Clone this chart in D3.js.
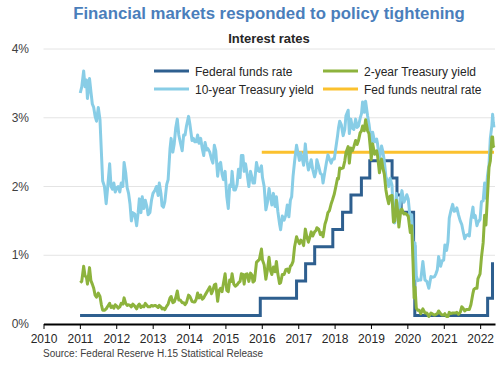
<!DOCTYPE html>
<html>
<head>
<meta charset="utf-8">
<script src="https://cdnjs.cloudflare.com/ajax/libs/d3/7.8.5/d3.min.js"></script>
<style>
  html, body { margin: 0; padding: 0; background: #fff; }
  svg { display: block; font-family: "Liberation Sans", Arial, sans-serif; }
</style>
</head>
<body>
<svg id="chart" width="500" height="365"></svg>
<script>
const seriesNames = ["Federal funds rate", "2-year Treasury yield", "10-year Treasury yield", "Fed funds neutral rate"];
const xTickYears = [2010, 2011, 2012, 2013, 2014, 2015, 2016, 2017, 2018, 2019, 2020, 2021, 2022];
const yTicks = [0, 1, 2, 3, 4];

const fedFunds = [
  ["2011-01-03",0.125],["2015-12-17",0.375],["2016-12-15",0.625],["2017-03-16",0.875],
  ["2017-06-15",1.125],["2017-12-14",1.375],["2018-03-22",1.625],["2018-06-14",1.875],
  ["2018-09-27",2.125],["2018-12-20",2.375],["2019-08-01",2.125],["2019-09-19",1.875],
  ["2019-10-31",1.625],["2020-03-04",1.125],["2020-03-16",0.125],["2022-03-17",0.375],
  ["2022-05-05",0.875],["2022-05-20",0.875]
];

const neutralRate = [["2016-01-01",2.5],["2022-05-20",2.5]];

const tenYear = [
  ["2011-01-05",3.36],["2011-01-20",3.45],["2011-02-08",3.68],["2011-02-22",3.45],["2011-03-08",3.55],["2011-03-18",3.28],
  ["2011-04-08",3.57],["2011-04-22",3.38],["2011-05-06",3.20],["2011-05-20",3.15],["2011-06-03",3.02],["2011-06-17",2.95],
  ["2011-07-05",3.15],["2011-07-22",2.97],["2011-08-05",2.50],["2011-08-18",2.08],["2011-09-05",2.00],["2011-09-22",1.75],
  ["2011-10-05",1.95],["2011-10-27",2.33],["2011-11-10",2.00],["2011-11-25",1.96],["2011-12-08",2.05],["2011-12-22",1.92],
  ["2012-01-06",1.98],["2012-01-20",2.00],["2012-02-06",1.92],["2012-02-20",2.05],["2012-03-08",2.00],["2012-03-20",2.35],
  ["2012-04-05",2.20],["2012-04-20",1.98],["2012-05-04",1.90],["2012-05-18",1.75],["2012-06-01",1.50],["2012-06-15",1.62],
  ["2012-07-05",1.60],["2012-07-24",1.43],["2012-08-08",1.62],["2012-08-20",1.82],["2012-09-05",1.62],["2012-09-18",1.85],
  ["2012-10-04",1.68],["2012-10-19",1.80],["2012-11-05",1.70],["2012-11-16",1.59],["2012-12-04",1.62],["2012-12-20",1.80],
  ["2013-01-04",1.90],["2013-01-25",1.95],["2013-02-08",2.00],["2013-02-25",1.87],["2013-03-08",2.05],["2013-03-25",1.90],
  ["2013-04-05",1.72],["2013-04-19",1.70],["2013-05-03",1.78],["2013-05-22",2.03],["2013-06-05",2.10],["2013-06-24",2.55],
  ["2013-07-05",2.70],["2013-07-22",2.50],["2013-08-05",2.62],["2013-08-20",2.85],["2013-09-05",2.98],["2013-09-20",2.75],
  ["2013-10-04",2.65],["2013-10-24",2.52],["2013-11-08",2.75],["2013-11-22",2.75],["2013-12-06",2.88],["2013-12-27",3.02],
  ["2014-01-10",2.90],["2014-01-31",2.67],["2014-02-14",2.70],["2014-02-28",2.65],["2014-03-14",2.65],["2014-03-28",2.75],
  ["2014-04-11",2.63],["2014-04-28",2.70],["2014-05-14",2.55],["2014-05-28",2.45],["2014-06-11",2.64],["2014-06-27",2.53],
  ["2014-07-09",2.55],["2014-07-28",2.50],["2014-08-14",2.40],["2014-08-28",2.34],["2014-09-12",2.60],["2014-09-26",2.52],
  ["2014-10-15",2.15],["2014-10-30",2.32],["2014-11-14",2.35],["2014-11-28",2.18],["2014-12-12",2.10],["2014-12-29",2.22],
  ["2015-01-15",1.85],["2015-01-30",1.68],["2015-02-13",2.02],["2015-02-27",2.00],["2015-03-09",2.22],["2015-03-26",1.95],
  ["2015-04-10",1.95],["2015-04-28",2.03],["2015-05-12",2.25],["2015-05-28",2.13],["2015-06-10",2.45],["2015-06-26",2.45],
  ["2015-07-08",2.22],["2015-07-22",2.33],["2015-08-07",2.18],["2015-08-24",2.00],["2015-09-10",2.22],["2015-09-25",2.13],
  ["2015-10-05",2.05],["2015-10-20",2.05],["2015-11-09",2.35],["2015-11-25",2.23],["2015-12-08",2.22],["2015-12-29",2.30],
  ["2016-01-08",2.13],["2016-01-25",2.00],["2016-02-11",1.66],["2016-02-26",1.76],["2016-03-14",1.97],["2016-03-30",1.83],
  ["2016-04-11",1.73],["2016-04-27",1.90],["2016-05-13",1.71],["2016-05-27",1.85],["2016-06-10",1.64],["2016-06-27",1.46],
  ["2016-07-08",1.37],["2016-07-25",1.57],["2016-08-12",1.51],["2016-08-29",1.58],["2016-09-13",1.73],["2016-09-29",1.56],
  ["2016-10-14",1.80],["2016-10-27",1.85],["2016-11-10",2.15],["2016-11-25",2.36],["2016-12-15",2.60],["2016-12-29",2.49],
  ["2017-01-13",2.38],["2017-01-27",2.49],["2017-02-10",2.41],["2017-02-24",2.31],["2017-03-13",2.62],["2017-03-28",2.38],
  ["2017-04-13",2.24],["2017-04-27",2.30],["2017-05-11",2.39],["2017-05-26",2.25],["2017-06-14",2.14],["2017-06-28",2.22],
  ["2017-07-07",2.39],["2017-07-26",2.29],["2017-08-11",2.19],["2017-08-28",2.17],["2017-09-07",2.05],["2017-09-26",2.22],
  ["2017-10-11",2.35],["2017-10-26",2.46],["2017-11-10",2.40],["2017-11-28",2.34],["2017-12-12",2.40],["2017-12-29",2.40],
  ["2018-01-12",2.55],["2018-01-30",2.73],["2018-02-09",2.85],["2018-02-21",2.95],["2018-03-09",2.90],["2018-03-28",2.74],
  ["2018-04-13",2.83],["2018-04-25",3.03],["2018-05-17",3.11],["2018-05-29",2.77],["2018-06-13",2.98],["2018-06-29",2.85],
  ["2018-07-13",2.83],["2018-07-31",2.98],["2018-08-15",2.86],["2018-08-29",2.88],["2018-09-14",2.99],["2018-09-28",3.06],
  ["2018-10-09",3.23],["2018-10-26",3.08],["2018-11-08",3.24],["2018-11-28",3.03],["2018-12-12",2.91],["2018-12-31",2.69],
  ["2019-01-03",2.56],["2019-01-18",2.79],["2019-02-07",2.65],["2019-02-27",2.69],["2019-03-08",2.62],["2019-03-27",2.39],
  ["2019-04-17",2.59],["2019-04-30",2.51],["2019-05-15",2.37],["2019-05-31",2.14],["2019-06-13",2.09],["2019-06-28",2.00],
  ["2019-07-12",2.12],["2019-07-31",2.02],["2019-08-15",1.53],["2019-08-28",1.47],["2019-09-13",1.90],["2019-09-27",1.69],
  ["2019-10-08",1.54],["2019-10-28",1.85],["2019-11-08",1.94],["2019-11-27",1.77],["2019-12-13",1.82],["2019-12-27",1.88],
  ["2020-01-10",1.82],["2020-01-31",1.51],["2020-02-14",1.59],["2020-02-28",1.13],["2020-03-09",0.54],["2020-03-18",1.18],
  ["2020-03-31",0.70],["2020-04-15",0.63],["2020-04-30",0.64],["2020-05-15",0.64],["2020-06-05",0.91],["2020-06-26",0.64],
  ["2020-07-15",0.62],["2020-08-04",0.52],["2020-08-25",0.69],["2020-09-15",0.68],["2020-09-30",0.69],["2020-10-14",0.73],
  ["2020-10-28",0.79],["2020-11-10",0.98],["2020-11-30",0.84],["2020-12-15",0.92],["2020-12-31",0.93],["2021-01-12",1.15],
  ["2021-01-29",1.07],["2021-02-12",1.20],["2021-02-25",1.54],["2021-03-12",1.64],["2021-03-31",1.74],["2021-04-14",1.64],
  ["2021-04-30",1.65],["2021-05-12",1.69],["2021-05-28",1.59],["2021-06-15",1.50],["2021-06-30",1.45],["2021-07-14",1.35],
  ["2021-07-30",1.24],["2021-08-13",1.29],["2021-08-31",1.30],["2021-09-14",1.28],["2021-09-30",1.52],["2021-10-21",1.70],
  ["2021-10-29",1.55],["2021-11-12",1.58],["2021-11-30",1.43],["2021-12-10",1.48],["2021-12-31",1.52],["2022-01-14",1.78],
  ["2022-01-31",1.79],["2022-02-15",2.05],["2022-02-28",1.83],["2022-03-15",2.15],["2022-03-31",2.32],["2022-04-13",2.70],
  ["2022-04-29",2.89],["2022-05-06",3.05],["2022-05-13",2.93],["2022-05-20",2.86]
];

const twoYear = [
  ["2011-01-05",0.60],["2011-01-20",0.62],["2011-02-08",0.84],["2011-02-22",0.70],["2011-03-08",0.68],["2011-03-18",0.58],
  ["2011-04-08",0.82],["2011-04-22",0.63],["2011-05-06",0.58],["2011-05-20",0.52],["2011-06-03",0.42],["2011-06-17",0.39],
  ["2011-07-05",0.45],["2011-07-22",0.40],["2011-08-05",0.28],["2011-08-18",0.20],["2011-09-05",0.20],["2011-09-22",0.22],
  ["2011-10-05",0.25],["2011-10-27",0.30],["2011-11-10",0.24],["2011-11-25",0.26],["2011-12-08",0.23],["2011-12-22",0.28],
  ["2012-01-06",0.26],["2012-01-20",0.23],["2012-02-06",0.25],["2012-02-20",0.30],["2012-03-08",0.29],["2012-03-20",0.38],
  ["2012-04-05",0.30],["2012-04-20",0.27],["2012-05-04",0.28],["2012-05-18",0.27],["2012-06-01",0.25],["2012-06-15",0.29],
  ["2012-07-05",0.26],["2012-07-24",0.22],["2012-08-08",0.27],["2012-08-20",0.29],["2012-09-05",0.24],["2012-09-18",0.26],
  ["2012-10-04",0.25],["2012-10-19",0.30],["2012-11-05",0.27],["2012-11-16",0.25],["2012-12-04",0.25],["2012-12-20",0.27],
  ["2013-01-04",0.26],["2013-01-25",0.27],["2013-02-08",0.26],["2013-02-25",0.24],["2013-03-08",0.27],["2013-03-25",0.25],
  ["2013-04-05",0.22],["2013-04-19",0.23],["2013-05-03",0.21],["2013-05-22",0.26],["2013-06-05",0.29],["2013-06-24",0.38],
  ["2013-07-05",0.40],["2013-07-22",0.31],["2013-08-05",0.32],["2013-08-20",0.38],["2013-09-05",0.48],["2013-09-20",0.35],
  ["2013-10-04",0.35],["2013-10-24",0.31],["2013-11-08",0.31],["2013-11-22",0.28],["2013-12-06",0.31],["2013-12-27",0.42],
  ["2014-01-10",0.40],["2014-01-31",0.33],["2014-02-14",0.32],["2014-02-28",0.32],["2014-03-14",0.36],["2014-03-28",0.45],
  ["2014-04-11",0.38],["2014-04-28",0.42],["2014-05-14",0.36],["2014-05-28",0.38],["2014-06-11",0.42],["2014-06-27",0.46],
  ["2014-07-09",0.49],["2014-07-28",0.54],["2014-08-14",0.44],["2014-08-28",0.49],["2014-09-12",0.57],["2014-09-26",0.58],
  ["2014-10-15",0.33],["2014-10-30",0.49],["2014-11-14",0.52],["2014-11-28",0.47],["2014-12-12",0.59],["2014-12-29",0.73],
  ["2015-01-15",0.49],["2015-01-30",0.47],["2015-02-13",0.64],["2015-02-27",0.62],["2015-03-09",0.73],["2015-03-26",0.58],
  ["2015-04-10",0.55],["2015-04-28",0.57],["2015-05-12",0.60],["2015-05-28",0.62],["2015-06-10",0.73],["2015-06-26",0.72],
  ["2015-07-08",0.58],["2015-07-22",0.72],["2015-08-07",0.73],["2015-08-24",0.62],["2015-09-10",0.74],["2015-09-25",0.71],
  ["2015-10-05",0.61],["2015-10-20",0.63],["2015-11-09",0.90],["2015-11-25",0.92],["2015-12-08",0.94],["2015-12-29",1.09],
  ["2016-01-08",0.93],["2016-01-25",0.86],["2016-02-11",0.65],["2016-02-26",0.78],["2016-03-14",0.97],["2016-03-30",0.77],
  ["2016-04-11",0.72],["2016-04-27",0.83],["2016-05-13",0.76],["2016-05-27",0.91],["2016-06-10",0.73],["2016-06-27",0.59],
  ["2016-07-08",0.60],["2016-07-25",0.72],["2016-08-12",0.72],["2016-08-29",0.79],["2016-09-13",0.80],["2016-09-29",0.75],
  ["2016-10-14",0.84],["2016-10-27",0.86],["2016-11-10",0.91],["2016-11-25",1.12],["2016-12-15",1.27],["2016-12-29",1.21],
  ["2017-01-13",1.17],["2017-01-27",1.22],["2017-02-10",1.20],["2017-02-24",1.14],["2017-03-13",1.38],["2017-03-28",1.27],
  ["2017-04-13",1.19],["2017-04-27",1.26],["2017-05-11",1.34],["2017-05-26",1.28],["2017-06-14",1.34],["2017-06-28",1.36],
  ["2017-07-07",1.40],["2017-07-26",1.38],["2017-08-11",1.30],["2017-08-28",1.33],["2017-09-07",1.27],["2017-09-26",1.45],
  ["2017-10-11",1.52],["2017-10-26",1.62],["2017-11-10",1.65],["2017-11-28",1.75],["2017-12-12",1.81],["2017-12-29",1.89],
  ["2018-01-12",1.99],["2018-01-30",2.12],["2018-02-09",2.11],["2018-02-21",2.27],["2018-03-09",2.26],["2018-03-28",2.27],
  ["2018-04-13",2.37],["2018-04-25",2.49],["2018-05-17",2.58],["2018-05-29",2.34],["2018-06-13",2.56],["2018-06-29",2.52],
  ["2018-07-13",2.58],["2018-07-31",2.67],["2018-08-15",2.61],["2018-08-29",2.67],["2018-09-14",2.78],["2018-09-28",2.81],
  ["2018-10-09",2.88],["2018-10-26",2.81],["2018-11-08",2.97],["2018-11-28",2.81],["2018-12-12",2.77],["2018-12-31",2.48],
  ["2019-01-03",2.39],["2019-01-18",2.62],["2019-02-07",2.47],["2019-02-27",2.52],["2019-03-08",2.45],["2019-03-27",2.20],
  ["2019-04-17",2.40],["2019-04-30",2.27],["2019-05-15",2.18],["2019-05-31",1.95],["2019-06-13",1.84],["2019-06-28",1.75],
  ["2019-07-12",1.86],["2019-07-31",1.87],["2019-08-15",1.48],["2019-08-28",1.50],["2019-09-13",1.80],["2019-09-27",1.63],
  ["2019-10-08",1.41],["2019-10-28",1.66],["2019-11-08",1.67],["2019-11-27",1.60],["2019-12-13",1.61],["2019-12-27",1.59],
  ["2020-01-10",1.57],["2020-01-31",1.33],["2020-02-14",1.43],["2020-02-28",0.86],["2020-03-09",0.38],["2020-03-18",0.54],
  ["2020-03-31",0.23],["2020-04-15",0.20],["2020-04-30",0.20],["2020-05-15",0.15],["2020-06-05",0.22],["2020-06-26",0.16],
  ["2020-07-15",0.16],["2020-08-04",0.11],["2020-08-25",0.16],["2020-09-15",0.14],["2020-09-30",0.13],["2020-10-14",0.14],
  ["2020-10-28",0.15],["2020-11-10",0.19],["2020-11-30",0.15],["2020-12-15",0.13],["2020-12-31",0.13],["2021-01-12",0.15],
  ["2021-01-29",0.11],["2021-02-12",0.11],["2021-02-25",0.17],["2021-03-12",0.15],["2021-03-31",0.16],["2021-04-14",0.16],
  ["2021-04-30",0.16],["2021-05-12",0.17],["2021-05-28",0.14],["2021-06-15",0.17],["2021-06-30",0.25],["2021-07-14",0.23],
  ["2021-07-30",0.19],["2021-08-13",0.21],["2021-08-31",0.21],["2021-09-14",0.21],["2021-09-30",0.28],["2021-10-21",0.45],
  ["2021-10-29",0.50],["2021-11-12",0.52],["2021-11-30",0.52],["2021-12-10",0.66],["2021-12-31",0.73],["2022-01-14",0.97],
  ["2022-01-31",1.18],["2022-02-15",1.58],["2022-02-28",1.44],["2022-03-15",1.85],["2022-03-31",2.28],["2022-04-13",2.37],
  ["2022-04-29",2.72],["2022-05-06",2.72],["2022-05-13",2.58],["2022-05-20",2.60]
];

const colors = { fed: "#2e5f8f", two: "#8db33d", ten: "#88cde6", neutral: "#fbc12e" };

const parse = d3.timeParse("%Y-%m-%d");
const toPts = arr => arr.map(d => ({ date: parse(d[0]), value: d[1] }));

const svg = d3.select("#chart");
const x = d3.scaleTime().domain([new Date(2010, 0, 1), new Date(2022, 4, 30)]).range([43.5, 495]);
const y = d3.scaleLinear().domain([0, 4]).range([324, 49]);

// Title
svg.append("text").attr("x", 269).attr("y", 19).attr("text-anchor", "middle")
  .attr("font-size", 16.8).attr("font-weight", "bold").attr("fill", "#4a7ebb")
  .text("Financial markets responded to policy tightening");
svg.append("text").attr("x", 269).attr("y", 43).attr("text-anchor", "middle")
  .attr("font-size", 13).attr("font-weight", "bold").attr("fill", "#262626")
  .text("Interest rates");

// Gridlines
svg.append("g").selectAll("line").data(yTicks.filter(t => t > 0)).join("line")
  .attr("x1", x.range()[0]).attr("x2", x.range()[1])
  .attr("y1", d => y(d)).attr("y2", d => y(d))
  .attr("stroke", "#e4e4e4").attr("stroke-width", 1);

// Y labels
svg.append("g").selectAll("text").data(yTicks).join("text")
  .attr("x", 29).attr("y", d => y(d) + 4).attr("text-anchor", "end")
  .attr("font-size", 12).attr("fill", "#404040")
  .text(d => d + "%");

// Lines
const line = d3.line().x(d => x(d.date)).y(d => y(d.value));
const stepLine = d3.line().curve(d3.curveStepAfter).x(d => x(d.date)).y(d => y(d.value));
const lw = 3;
svg.append("path").datum(toPts(neutralRate)).attr("d", line)
  .attr("fill", "none").attr("stroke", colors.neutral).attr("stroke-width", lw);
svg.append("path").datum(toPts(fedFunds)).attr("d", stepLine)
  .attr("fill", "none").attr("stroke", colors.fed).attr("stroke-width", lw).attr("stroke-linejoin", "miter");
svg.append("path").datum(toPts(tenYear)).attr("d", line)
  .attr("fill", "none").attr("stroke", colors.ten).attr("stroke-width", lw).attr("stroke-linejoin", "round");
svg.append("path").datum(toPts(twoYear)).attr("d", line)
  .attr("fill", "none").attr("stroke", colors.two).attr("stroke-width", lw).attr("stroke-linejoin", "round");

// X axis
const xAxis = d3.axisBottom(x)
  .tickValues(xTickYears.map(yr => new Date(yr, 0, 1)))
  .tickFormat(d3.timeFormat("%Y")).tickSize(5).tickSizeOuter(0);
const gx = svg.append("g").attr("transform", "translate(0,324)").call(xAxis);
gx.select(".domain").attr("stroke", "#000").attr("stroke-width", 2);
gx.selectAll(".tick line").attr("stroke", "#000").attr("stroke-width", 1);
gx.selectAll(".tick text").attr("font-size", 12).attr("fill", "#262626")
  .attr("font-family", "Liberation Sans, Arial, sans-serif").attr("dy", "0.95em");

// Legend
const legendItems = [
  { name: seriesNames[0], color: colors.fed, lx: 154, ly: 71 },
  { name: seriesNames[1], color: colors.two, lx: 323, ly: 71 },
  { name: seriesNames[2], color: colors.ten, lx: 154, ly: 89 },
  { name: seriesNames[3], color: colors.neutral, lx: 323, ly: 89 }
];
const lg = svg.append("g").selectAll("g").data(legendItems).join("g")
  .attr("transform", d => `translate(${d.lx},${d.ly})`);
lg.append("line").attr("x1", 0).attr("x2", 35).attr("y1", 0).attr("y2", 0)
  .attr("stroke", d => d.color).attr("stroke-width", 3);
lg.append("text").attr("x", 41).attr("y", 4.5).attr("font-size", 12).attr("fill", "#262626")
  .text(d => d.name);

// Source
svg.append("text").attr("x", 43).attr("y", 357).attr("font-size", 10).attr("fill", "#404040")
  .text("Source: Federal Reserve H.15 Statistical Release");
</script>
</body>
</html>
